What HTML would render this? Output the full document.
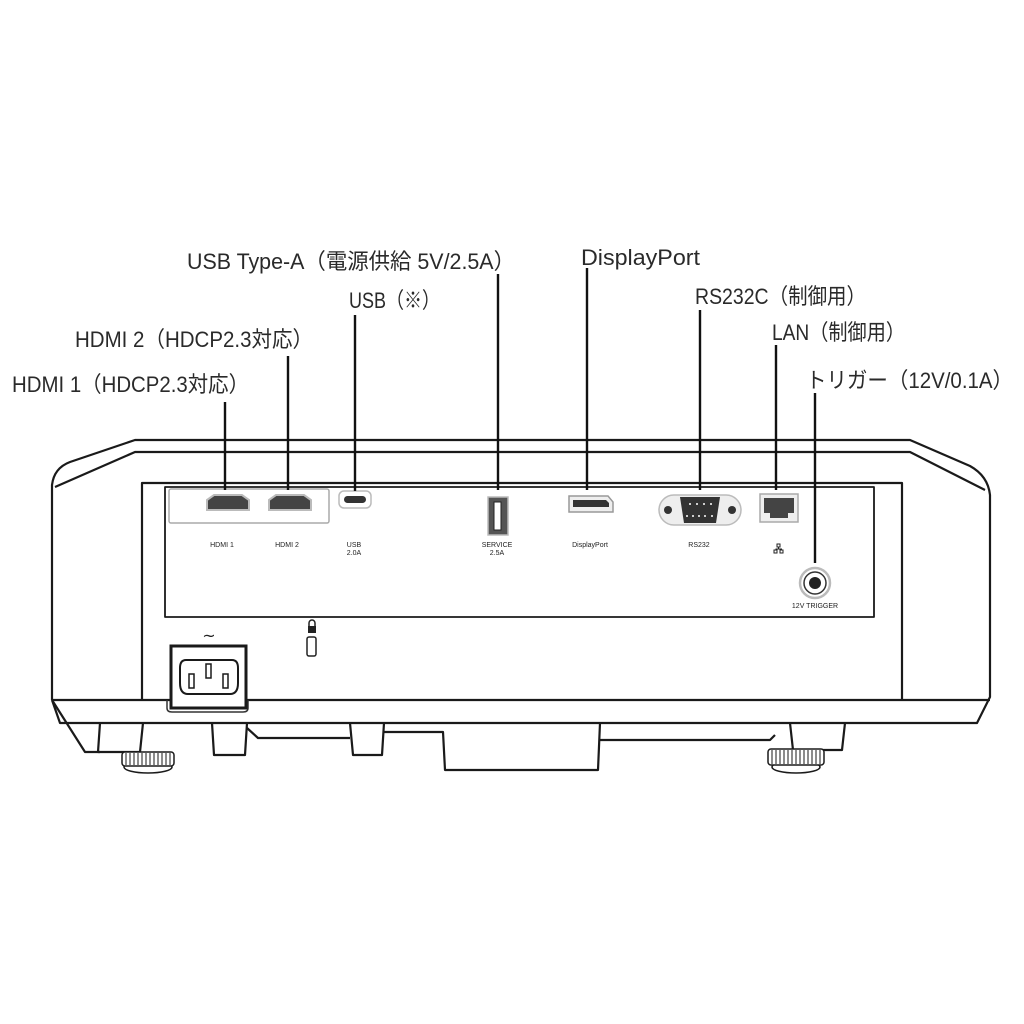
<!DOCTYPE html>
<html><head><meta charset="utf-8"><style>
html,body{margin:0;padding:0;background:#fff}
svg{display:block}
.l{font-family:"Liberation Sans","Noto Sans CJK JP",sans-serif;font-size:22px;fill:#2a2a2a}
.s{font-family:"Liberation Sans",sans-serif;font-size:7px;fill:#222;text-anchor:middle}
</style></head><body>
<svg width="1024" height="1024" viewBox="0 0 1024 1024" xmlns="http://www.w3.org/2000/svg">
<g fill="none" stroke="#1a1a1a" stroke-width="2.2" stroke-linejoin="round">
<path d="M52,700 L52,485 Q54,468 70,462 L135,440 L910,440 L970,466 Q988,476 990,495 L990,697 L977,723 L60,723 L52,700"/>
<path d="M55,487 L135,452 L910,452 L985,490"/>
<path d="M52,700 L990,700"/>
<path d="M52,700 L85,752 L100,752"/>
<path d="M142,700 L142,483 L902,483 L902,700"/>
<path d="M165,617 L165,487 L874,487 L874,617 Z" stroke-width="1.8"/>
<path d="M100,723 L98,752 L140,752 L143,723"/>
<path d="M212,723 L214,755 L245,755 L247,723"/>
<path d="M247,728 L258,738 L350,738"/>
<path d="M350,723 L353,755 L382,755 L384,723"/>
<path d="M384,732 L443,732 L445,770 L598,770 L600,723"/>
<path d="M600,740 L770,740 L775,735"/>
<path d="M790,723 L793,750 L842,750 L845,723"/>
</g>
<g fill="#fff" stroke="#1a1a1a" stroke-width="1.5">
<ellipse cx="148" cy="767" rx="24" ry="6"/>
<rect x="122" y="752" width="52" height="14" rx="3"/>
<ellipse cx="796" cy="767" rx="24" ry="6"/>
<rect x="768" y="749" width="56" height="16" rx="3"/>
</g>
<g stroke="#1a1a1a" stroke-width="1">
<path d="M126,753v12M130,753v12M134,753v12M138,753v12M142,753v12M146,753v12M150,753v12M154,753v12M158,753v12M162,753v12M166,753v12M170,753v12"/>
<path d="M772,750v14M776,750v14M780,750v14M784,750v14M788,750v14M792,750v14M796,750v14M800,750v14M804,750v14M808,750v14M812,750v14M816,750v14M820,750v14"/>
</g>
<rect x="169" y="489" width="160" height="34" rx="2" fill="none" stroke="#aaa" stroke-width="1.5"/>
<g fill="#444" stroke="#bbb" stroke-width="2">
<path d="M207,500 L214,495 L242,495 L249,500 L249,510 L207,510 Z"/>
<path d="M269,500 L276,495 L304,495 L311,500 L311,510 L269,510 Z"/>
</g>
<rect x="339" y="491" width="32" height="17" rx="5" fill="#fff" stroke="#bbb" stroke-width="1.5"/>
<rect x="344" y="496" width="22" height="7" rx="3.5" fill="#333"/>
<rect x="488" y="497" width="20" height="38" fill="#555" stroke="#bbb" stroke-width="1.5"/>
<rect x="494" y="502" width="7" height="28" fill="#fff" stroke="#222" stroke-width="1"/>
<path d="M569,496 L608,496 L613,502 L613,512 L569,512 Z" fill="#eee" stroke="#999" stroke-width="1.5"/>
<path d="M573,500 L606,500 L609,503 L609,507 L573,507 Z" fill="#333"/>
<rect x="659" y="495" width="82" height="30" rx="15" fill="#eee" stroke="#bbb" stroke-width="1.5"/>
<circle cx="668" cy="510" r="4" fill="#333"/><circle cx="732" cy="510" r="4" fill="#333"/>
<path d="M680,497 L720,497 L716,523 L684,523 Z" fill="#333"/>
<g fill="#fff"><circle cx="690" cy="504" r="1"/><circle cx="697" cy="504" r="1"/><circle cx="704" cy="504" r="1"/><circle cx="711" cy="504" r="1"/>
<circle cx="687" cy="516" r="1"/><circle cx="693" cy="516" r="1"/><circle cx="699" cy="516" r="1"/><circle cx="705" cy="516" r="1"/><circle cx="712" cy="516" r="1"/></g>
<rect x="760" y="494" width="38" height="28" fill="#eee" stroke="#aaa" stroke-width="1.5"/>
<path d="M764,498 L794,498 L794,513 L788,513 L788,518 L770,518 L770,513 L764,513 Z" fill="#444"/>
<g fill="none" stroke="#222" stroke-width="1"><rect x="777" y="544" width="3" height="3"/><rect x="774" y="550" width="3" height="3"/><rect x="780" y="550" width="3" height="3"/><path d="M778.5,547v2M775.5,549h6v1"/></g>
<circle cx="815" cy="583" r="15" fill="#fff" stroke="#bbb" stroke-width="2.5"/>
<circle cx="815" cy="583" r="11" fill="#fff" stroke="#333" stroke-width="1.5"/>
<circle cx="815" cy="583" r="6" fill="#222"/>
<text x="815" y="608" class="s">12V TRIGGER</text>
<text x="222" y="547" class="s">HDMI 1</text>
<text x="287" y="547" class="s">HDMI 2</text>
<text x="354" y="547" class="s">USB</text><text x="354" y="555" class="s">2.0A</text>
<text x="497" y="547" class="s">SERVICE</text><text x="497" y="555" class="s">2.5A</text>
<text x="590" y="547" class="s">DisplayPort</text>
<text x="699" y="547" class="s">RS232</text>
<path d="M167,700 L167,708 Q167,712 172,712 L243,712 Q248,712 248,708 L248,700" fill="none" stroke="#333" stroke-width="1.5"/>
<rect x="171" y="646" width="75" height="62" fill="#fff" stroke="#1a1a1a" stroke-width="3"/>
<path d="M186,660 L232,660 Q238,660 238,668 L238,683 Q238,694 230,694 L188,694 Q180,694 180,683 L180,668 Q180,660 186,660 Z" fill="#fff" stroke="#1a1a1a" stroke-width="2"/>
<rect x="189" y="674" width="5" height="14" fill="none" stroke="#1a1a1a" stroke-width="1.5"/>
<rect x="206" y="664" width="5" height="14" fill="none" stroke="#1a1a1a" stroke-width="1.5"/>
<rect x="223" y="674" width="5" height="14" fill="none" stroke="#1a1a1a" stroke-width="1.5"/>
<text x="209" y="641" style="font-family:'DejaVu Sans',sans-serif;font-size:16px;fill:#222;text-anchor:middle">~</text>
<rect x="308" y="626" width="8" height="7" fill="#222"/>
<path d="M309,626 v-3 a3,3 0 0 1 6,0 v3" fill="none" stroke="#222" stroke-width="1.5"/>
<rect x="307" y="637" width="9" height="19" rx="2" fill="#fff" stroke="#222" stroke-width="1.5"/>
<g stroke="#111" stroke-width="2.4">
<line x1="225" y1="402" x2="225" y2="490"/>
<line x1="288" y1="356" x2="288" y2="490"/>
<line x1="355" y1="315" x2="355" y2="491"/>
<line x1="498" y1="274" x2="498" y2="490"/>
<line x1="587" y1="268" x2="587" y2="490"/>
<line x1="700" y1="310" x2="700" y2="490"/>
<line x1="776" y1="345" x2="776" y2="490"/>
<line x1="815" y1="393" x2="815" y2="563"/>
</g>
<text x="187" y="269" class="l" textLength="328" lengthAdjust="spacingAndGlyphs">USB Type-A（電源供給 5V/2.5A）</text>
<text x="581" y="265" class="l" textLength="119" lengthAdjust="spacingAndGlyphs">DisplayPort</text>
<text x="349" y="308" class="l" textLength="91" lengthAdjust="spacingAndGlyphs">USB（※）</text>
<text x="695" y="304" class="l" textLength="171" lengthAdjust="spacingAndGlyphs">RS232C（制御用）</text>
<text x="75" y="347" class="l" textLength="238" lengthAdjust="spacingAndGlyphs">HDMI 2（HDCP2.3対応）</text>
<text x="772" y="340" class="l" textLength="133" lengthAdjust="spacingAndGlyphs">LAN（制御用）</text>
<text x="12" y="392" class="l" textLength="237" lengthAdjust="spacingAndGlyphs">HDMI 1（HDCP2.3対応）</text>
<text x="806" y="388" class="l" textLength="207" lengthAdjust="spacingAndGlyphs">トリガー（12V/0.1A）</text>
</svg>
</body></html>
